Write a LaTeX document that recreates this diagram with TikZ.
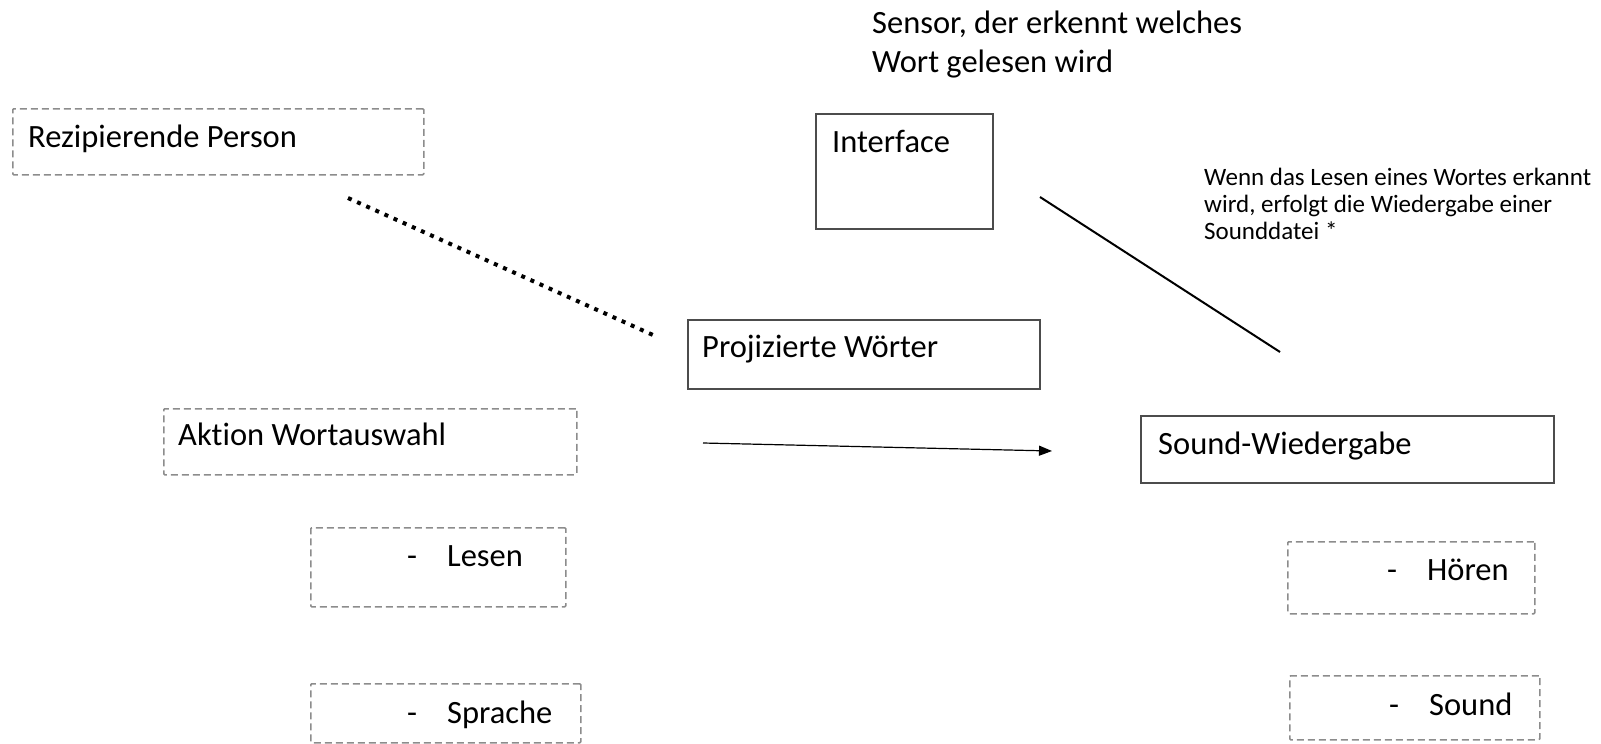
\documentclass[tikz,border=0pt]{standalone}
\usepackage{fontspec}
\setmainfont{Carlito}[Ligatures=CommonOff]
\usetikzlibrary{arrows.meta}
\newcommand\dashitem[1]{-\hspace{30pt}#1}

\tikzset{
  dbox/.style={draw=black!45, line width=1.5pt, dash pattern=on 7pt off 4pt, rounded corners=1pt, anchor=north west, inner sep=0pt},
  sbox/.style={draw=black!70, line width=1.5pt, anchor=north west, inner sep=0pt},
  lbl/.style={anchor=base west, inner sep=0pt, font=\fontsize{32.5}{39}\selectfont},
  note/.style={anchor=base west, inner sep=0pt, align=left, font=\fontsize{25}{27}\selectfont},
  dotline/.style={line width=4pt, dash pattern=on 4pt off 6pt},
}

\begin{document}
\begin{tikzpicture}[x=1pt, y=-1pt]
  \useasboundingbox (0,0) rectangle (1601,744);

  %%%%% BOXES %%%%%
  \node[dbox, minimum width=411pt, minimum height=66pt] (person) at (12,108) {};
  \node[sbox, minimum width=177pt, minimum height=115pt] (iface) at (815,113) {};
  \node[sbox, minimum width=352pt, minimum height=69pt] (words) at (687,319) {};
  \node[dbox, minimum width=413pt, minimum height=66pt] (action) at (163,408) {};
  \node[sbox, minimum width=413pt, minimum height=67pt] (sound) at (1140,415) {};
  \node[dbox, minimum width=255pt, minimum height=79pt] (read) at (310,527) {};
  \node[dbox, minimum width=270pt, minimum height=59pt] (speech) at (310,683) {};
  \node[dbox, minimum width=247pt, minimum height=72pt] (hear) at (1287,541) {};
  \node[dbox, minimum width=250pt, minimum height=64pt] (audio) at (1289,675) {};

  %%%%% TEXTS %%%%% (base of a multi-line node = its last line)
  \node[lbl, align=left] (sensorlbl) at (872,72) {Sensor, der erkennt welches\\Wort gelesen wird};
  \node[lbl] (personlbl) at (28,147) {Rezipierende Person};
  \node[lbl] (ifacelbl) at (832,152) {Interface};
  \node[note] (notelbl) at (1204,239) {Wenn das Lesen eines Wortes erkannt\\wird, erfolgt die Wiedergabe einer\\Sounddatei *};
  \node[lbl] (wordslbl) at (702,357) {Projizierte Wörter};
  \node[lbl] (actionlbl) at (178,445) {Aktion Wortauswahl};
  \node[lbl] (soundlbl) at (1158,454) {Sound-Wiedergabe};
  \node[lbl] (readlbl) at (407,566) {\dashitem{Lesen}};
  \node[lbl] (speechlbl) at (407,723) {\dashitem{Sprache}};
  \node[lbl] (hearlbl) at (1387,580) {\dashitem{Hören}};
  \node[lbl] (audiolbl) at (1389,715) {\dashitem{Sound}};

  %%%%% CONNECTORS %%%%%
  \coordinate (dotA) at (348,198);
  \coordinate (dotB) at (653,335);
  \coordinate (arrA) at (703,443);
  \coordinate (arrB) at (1052,451);
  \coordinate (lineA) at (1040,197);
  \coordinate (lineB) at (1280,352);

  \draw[dotline] (dotA) -- (dotB);
  \draw[line width=1.2pt, -{Triangle[length=13pt, width=10pt]}] (arrA) -- (arrB);
  \draw[line width=2pt] (lineA) -- (lineB);
\end{tikzpicture}
\end{document}
